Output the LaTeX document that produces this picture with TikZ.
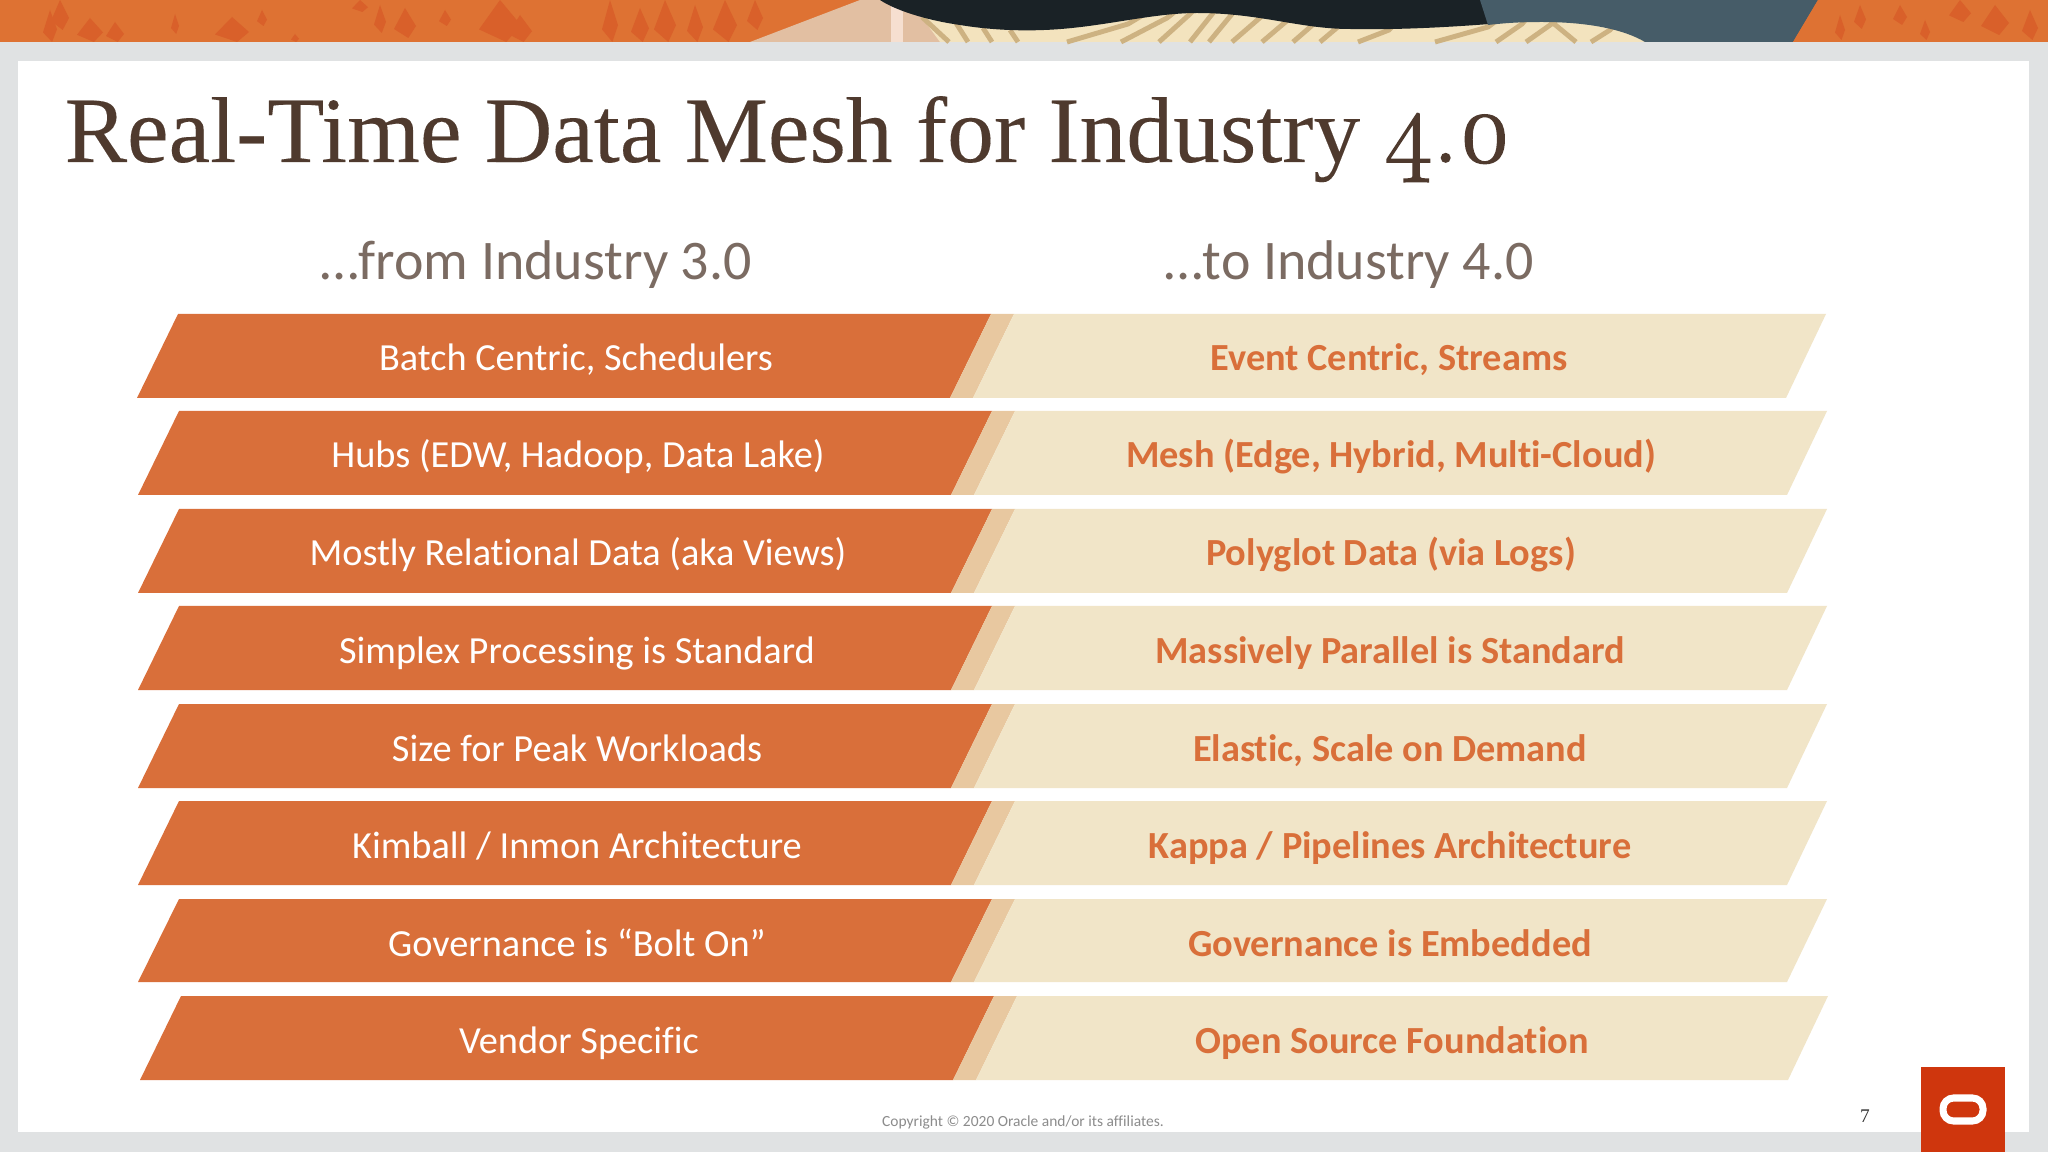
\documentclass[tikz,border=0pt]{standalone}
\usepackage{fontspec}
\setmainfont[Ligatures=NoCommon]{Carlito}
\newfontfamily\titlefont[FakeBold=0.12]{Liberation Serif}
\newfontfamily\pagefont{Liberation Serif}
\newfontfamily\titlenums[Numbers=OldStyle,FakeBold=1.6]{Latin Modern Roman}
\usepackage{tikz}
\definecolor{slidegray}{HTML}{E0E2E3}
\definecolor{barorange}{HTML}{D96F3A}
\definecolor{barstripe}{HTML}{E8C8A0}
\definecolor{barcream}{HTML}{F1E5C8}
\definecolor{titlebrown}{HTML}{4F3A2E}
\definecolor{logored}{HTML}{CF360D}
\definecolor{bandorange}{HTML}{DE7233}
\definecolor{bandspot}{HTML}{D9602A}
\definecolor{bandbeige}{HTML}{E2BFA2}
\definecolor{bandpale}{HTML}{F6DFD0}
\definecolor{bandblack}{HTML}{1A2226}
\definecolor{bandblue}{HTML}{465C68}
\definecolor{bandcream}{HTML}{F3E3BE}
\definecolor{bandtan}{HTML}{CDB282}
\tikzset{
  lefttext/.style={anchor=base,text=white,font=\fontsize{10.9pt}{12pt}\selectfont,inner sep=0pt},
  righttext/.style={anchor=base,text=barorange,font=\fontsize{10.9pt}{12pt}\selectfont\bfseries,inner sep=0pt},
  headtext/.style={anchor=base,text=titlebrown!75,font=\fontsize{15.9pt}{18pt}\selectfont,inner sep=0pt},
}
% one row: name, top, bottom, left edge, shift of the joint, right edge, text x, left text, right text
\newcommand{\rowband}[9]{
  \fill[barorange] ( #4 + 41 , #2 ) -- ( 991 + #5 , #2 ) -- ( 950 + #5 , #3 ) -- ( #4 , #3 ) -- cycle;
  \fill[barstripe] ( 991 + #5 , #2 ) -- ( 1014 + #5 , #2 ) -- ( 973 + #5 , #3 ) -- ( 950 + #5 , #3 ) -- cycle;
  \fill[barcream] ( 1014 + #5 , #2 ) -- ( #6 + 40 , #2 ) -- ( #6 , #3 ) -- ( 973 + #5 , #3 ) -- cycle;
  \node[lefttext] (#1l) at ( #7 + 1 , #2 + 57 ) {#8};
  \node[righttext] (#1r) at ( #7 + 814 , #2 + 57 ) {#9};
}
\newcommand{\bandspot}[4]{\fill[bandspot] ( #1 , #2 ) -- ( #1 + #3 * 0.5 , #2 + #4 * 0.6 ) -- ( #1 + #3 * 0.15 , #2 + #4 ) -- ( #1 - #3 * 0.5 , #2 + #4 * 0.7 ) -- cycle;}
\newcommand{\bandstripe}[4]{\draw[bandtan,line width=1.4pt] ( #1 , 42 ) -- ( #2 , #3 ) -- ( #2 + #4 , #3 - 12 );}
\begin{document}
\begin{tikzpicture}[x=0.01cm,y=-0.01cm]
  \useasboundingbox (0,0) rectangle (2048,1152);
  \fill[slidegray] (0,0) rectangle (2048,1152);
  % top band
  \fill[bandorange] (0,0) rectangle (2048,42);
  \bandspot{60}{0}{18}{30}
  \bandspot{50}{10}{14}{32}
  \bandspot{90}{18}{26}{24}
  \bandspot{115}{22}{18}{20}
  \bandspot{175}{14}{8}{20}
  \bandspot{232}{17}{34}{25}
  \bandspot{262}{10}{10}{16}
  \bandspot{295}{34}{8}{8}
  \bandspot{360}{0}{16}{12}
  \bandspot{380}{5}{12}{28}
  \bandspot{405}{8}{22}{30}
  \bandspot{445}{10}{12}{16}
  \bandspot{500}{0}{42}{42}
  \bandspot{520}{15}{24}{27}
  \bandspot{610}{0}{16}{42}
  \bandspot{640}{8}{18}{34}
  \bandspot{665}{0}{22}{42}
  \bandspot{695}{5}{16}{37}
  \bandspot{725}{0}{24}{42}
  \bandspot{755}{0}{16}{30}
  \bandspot{1840}{15}{10}{25}
  \bandspot{1860}{5}{12}{24}
  \bandspot{1900}{5}{14}{20}
  \bandspot{1925}{20}{10}{20}
  \bandspot{1960}{0}{22}{22}
  \bandspot{1995}{5}{28}{30}
  \bandspot{2030}{10}{16}{30}
  \fill[bandbeige] (860,0) -- (750,42) -- (960,42) -- (960,0) -- cycle;
  \fill[bandpale] (891,0) rectangle (903,42);
  \fill[bandcream] (918,12) -- (940,42) -- (1645,42) -- (1645,0) -- (918,0) -- cycle;
  % stripes in the cream wave
  \draw[bandtan,line width=1.4pt] (949,42) -- (922,17);
  \draw[bandtan,line width=1.4pt] (968,42) -- (956,23);
  \draw[bandtan,line width=1.4pt] (992,42) -- (983,28);
  \draw[bandtan,line width=1.4pt] (1018,42) -- (1010,30);
  \bandstripe{1067}{1128}{24}{20}
  \bandstripe{1121}{1167}{18}{15}
  \bandstripe{1159}{1190}{14}{12}
  \bandstripe{1190}{1213}{13}{10}
  \bandstripe{1209}{1232}{14}{10}
  \bandstripe{1232}{1262}{16}{10}
  \bandstripe{1262}{1289}{19}{10}
  \bandstripe{1293}{1316}{22}{10}
  \bandstripe{1320}{1339}{26}{10}
  \bandstripe{1358}{1389}{30}{12}
  \bandstripe{1435}{1488}{27}{16}
  \bandstripe{1496}{1522}{24}{10}
  \bandstripe{1526}{1553}{23}{10}
  \bandstripe{1576}{1553}{23}{-10}
  \bandstripe{1591}{1610}{30}{10}
  \fill[bandblack] (880,0) .. controls (895,10) and (925,20) .. (960,25)
    .. controls (990,30) and (1020,31) .. (1044,30)
    .. controls (1100,28) and (1150,13) .. (1197,13)
    .. controls (1260,13) and (1300,29) .. (1350,29)
    .. controls (1400,30) and (1450,27) .. (1490,24) -- (1490,0) -- cycle;
  \fill[bandblue] (1480,0) -- (1818,0) -- (1793,42) -- (1645,42)
    .. controls (1625,30) and (1590,22) .. (1542,22)
    .. controls (1520,22) and (1505,23) .. (1488,25) -- cycle;
  \fill[bandorange] (1818,0) -- (1825,0) -- (1800,42) -- (1793,42) -- cycle;
  % panel
  \fill[white] (18,61) rectangle (2029,1132);
  % title
  \node[anchor=base west,inner sep=0pt,text=titlebrown,font=\fontsize{26.6pt}{30pt}\selectfont\titlefont] (title) at (64,162) {Real-Time Data Mesh for Industry {\fontsize{28.8pt}{30pt}\selectfont\titlenums 4.0}};
  % heads
  \node[headtext] (headl) at (536,280) {\ldots from Industry 3.0};
  \node[headtext] (headr) at (1349,280) {\ldots to Industry 4.0};
  % rows
  \rowband{a}{314}{398}{137}{0}{1786}{575}{Batch Centric, Schedulers}{Event Centric, Streams}
  \rowband{b}{411}{495}{138}{1}{1787}{577}{Hubs (EDW, Hadoop, Data Lake)}{Mesh (Edge, Hybrid, Multi-Cloud)}
  \rowband{c}{509}{593}{138}{1}{1787}{577}{Mostly Relational Data (aka Views)}{Polyglot Data (via Logs)}
  \rowband{d}{606}{690}{138}{1}{1787}{576}{Simplex Processing is Standard}{Massively Parallel is Standard}
  \rowband{e}{704}{788}{138}{1}{1787}{576}{Size for Peak Workloads}{Elastic, Scale on Demand}
  \rowband{f}{801}{885}{138}{1}{1787}{576}{Kimball / Inmon Architecture}{Kappa / Pipelines Architecture}
  \rowband{g}{899}{982}{138}{1}{1787}{576}{Governance is “Bolt On”}{Governance is Embedded}
  \rowband{h}{996}{1080}{140}{3}{1788}{578}{Vendor Specific}{Open Source Foundation}
  % footer
  \node[anchor=base,inner sep=0pt,text=black!45,font=\fontsize{4.4pt}{5pt}\selectfont] (copy) at (1023,1126) {Copyright © 2020 Oracle and/or its affiliates.};
  \node[anchor=base,inner sep=0pt,text=black!80,font=\fontsize{5.5pt}{6pt}\selectfont\pagefont] (page) at (1865,1122) {7};
  % logo
  \fill[logored] (1921,1067) rectangle (2005,1152);
  \draw[white,line width=2pt,rounded corners=3pt] (1943,1098) rectangle (1983,1121);
\end{tikzpicture}
\end{document}
